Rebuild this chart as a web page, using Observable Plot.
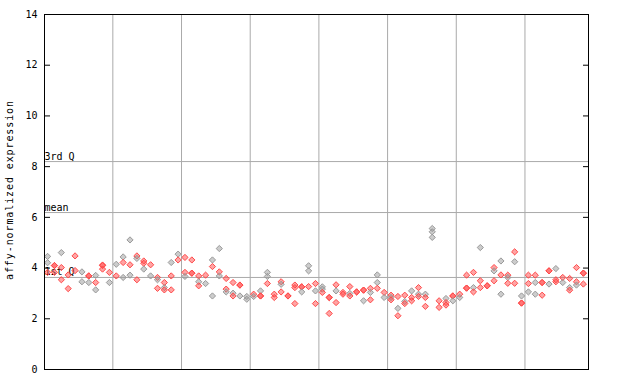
<!DOCTYPE html>
<html>
<head>
<meta charset="utf-8">
<script src="https://cdn.jsdelivr.net/npm/d3@7"></script>
<script src="https://cdn.jsdelivr.net/npm/@observablehq/plot@0.6"></script>
<style>
  html, body { margin: 0; padding: 0; background: #fff; }
  #chart svg { display: block; }
</style>
</head>
<body>
<div id="chart"></div>
<script>
// Expression values per sample column
const columnValues = [
  [4.46,4.21,3.83],[4.10,4.10,3.83],[4.61,4.02,3.54],[3.73,3.19],[4.48,3.90],
  [3.85,3.46],[3.69,3.69,3.43],[3.71,3.43,3.14],[4.12,4.10,3.96],[3.83,3.43],
  [4.15,3.69],[4.44,4.22,3.63],[5.11,4.13,3.72],[4.48,4.38,3.54],[4.28,4.19,3.96],
  [4.13,3.69],[3.63,3.54,3.20],[3.43,3.23,3.14],[4.22,3.69,3.14],[4.55,4.32],
  [4.42,3.83,3.67],[4.32,3.80,3.80],[3.69,3.46,3.30],[3.72,3.39],[4.32,4.06,2.90],
  [4.77,3.85,3.69],[3.59,3.17,3.06],[3.43,3.01,2.90],[3.33,3.33,2.90],[2.88,2.77],
  [2.97,2.88],[3.10,2.90,2.90],[3.83,3.67,3.39],[2.97,2.84],[3.46,3.36,3.06],
  [2.90,2.90],[3.33,3.23,2.60],[3.26,3.26,3.06],[4.09,3.89,3.27],[3.39,3.10,2.60],
  [3.26,3.17,3.04],[2.84,2.84,2.21],[3.34,3.10,2.64],[3.04,2.97],[3.27,3.00,2.90],
  [3.06,3.06],[3.13,3.13,2.71],[3.20,3.04,2.75],[3.73,3.43,3.20],[3.04,2.84],
  [2.93,2.84,2.75],[2.88,2.41,2.12],[2.93,2.68,2.60],[3.10,2.84,2.71],[3.23,2.97,2.88],
  [2.97,2.84,2.49],[5.56,5.43,5.21],[2.71,2.45],[2.80,2.64,2.54],[2.90,2.90,2.71],
  [2.97,2.84],[3.72,3.21,3.21],[3.83,3.23,3.06],[4.81,3.50,3.23],[3.30,3.30],
  [4.02,3.89,3.50],[4.28,3.73,2.97],[3.72,3.63,3.40],[4.64,4.25,3.40],[2.90,2.62,2.62],
  [3.72,3.39,3.06],[3.72,3.43,2.97],[3.43,3.43,2.93],[3.89,3.89,3.37],[3.98,3.54,3.46],
  [3.63,3.43],[3.59,3.23,3.13],[4.02,3.46,3.33],[3.80,3.80,3.37]
];
// Series of each point in a column: g = grey, r = red
const columnGroups = [
  "ggr","rrr","grr","rr","rr","gg","rrg","grg","rrr","rg",
  "gr","grg","grg","rgr","rrg","rg","rgr","rgr","grr","gr",
  "rrg","rrr","rgr","rg","grg","grg","rrg","rgr","rrg","gg",
  "rg","grr","ggr","rr","rgr","rr","rrr","rrg","ggr","rgr",
  "ggr","rrr","rgr","rr","rgr","rr","rrg","rgr","ggr","rg",
  "rgr","rgr","rgr","grr","rgr","grr","ggg","rr","grr","rrg",
  "rg","rrr","rgr","grr","rr","rgr","grg","rgr","rgr","grr",
  "rrg","rgg","rrr","rrg","grr","rg","rgr","rrg","rrr"
];
// Summary statistic lines
const statLabels = ["3rd Q", "mean", "1st Q"];
const statValues = [8.2, 6.19, 3.63];
// Vertical separators between sample groups
const separators = [9.5, 19.5, 29.5, 39.5, 49.5, 59.5, 69.5];
const yTicks = [0, 2, 4, 6, 8, 10, 12, 14];

const points = [];
columnValues.forEach((vals, i) => {
  vals.forEach((v, j) => points.push({sample: i, value: v, group: columnGroups[i][j]}));
});
const stats = statLabels.map((label, k) => ({label, value: statValues[k]}));

const font = "DejaVu Sans Mono, monospace";
const chart = Plot.plot({
  width: 640,
  height: 384,
  marginLeft: 44,
  marginRight: 52,
  marginTop: 14,
  marginBottom: 15,
  style: {fontFamily: font, fontSize: "10px", background: "#fff", color: "#000"},
  x: {domain: [-0.45, 78.75], axis: null},
  y: {domain: [0, 14], axis: null},
  color: {domain: ["g", "r"], range: ["#9a9a9a", "#ff4a4a"]},
  marks: [
    Plot.ruleX(separators, {stroke: "#aaaaaa", strokeWidth: 1}),
    Plot.ruleY(stats, {y: "value", stroke: "#aaaaaa", strokeWidth: 1}),
    Plot.text(stats, {x: -0.45, y: "value", text: "label", textAnchor: "start", lineAnchor: "bottom", dy: -2, fill: "#000", fontSize: 10}),
    Plot.dot(points, {x: "sample", y: "value", symbol: "diamond2", r: 2.8, stroke: "group", fill: "group", fillOpacity: 0.5, strokeWidth: 1}),
    Plot.frame({stroke: "#000"}),
    Plot.axisY({ticks: yTicks, tickSize: 0, tickPadding: 7, label: null, fontSize: 10}),
    Plot.axisY({ticks: yTicks, tickSize: -6, tickFormat: () => "", label: null}),
    Plot.axisY({ticks: yTicks, anchor: "right", tickSize: -6, tickFormat: () => "", label: null})
  ]
});

const svg = d3.select(chart);
svg.append("text")
  .attr("transform", "translate(13,190) rotate(-90)")
  .attr("text-anchor", "middle")
  .attr("font-family", font)
  .attr("font-size", 10)
  .attr("letter-spacing", 0.9)
  .attr("fill", "#000")
  .text("affy-normalized expression");

document.getElementById("chart").appendChild(chart);
</script>
</body>
</html>
